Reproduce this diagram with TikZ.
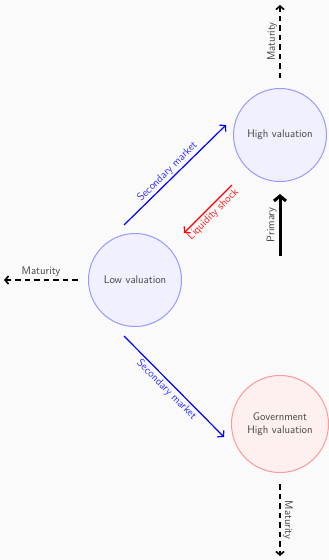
\documentclass[tikz,border=0pt]{standalone}
\usetikzlibrary{arrows.meta}
\definecolor{bg}{HTML}{FAFAFA}
\definecolor{txt}{HTML}{454545}
\definecolor{bluefill}{HTML}{F0F0FF}
\definecolor{blueline}{HTML}{9999FF}
\definecolor{redfill}{HTML}{FFF0F0}
\definecolor{redline}{HTML}{FF9999}
\definecolor{bluetxt}{HTML}{3333FF}
\definecolor{redtxt}{HTML}{FF2020}
\begin{document}
\begin{tikzpicture}[x=1pt,y=-1pt,
  font=\sffamily\fontsize{11}{13.2}\selectfont,
  valstate/.style={circle,draw=blueline,fill=bluefill,line width=1pt,minimum size=93pt,inner sep=0pt,text=txt,align=center},
  govstate/.style={circle,draw=redline,fill=redfill,line width=1pt,minimum size=97pt,inner sep=0pt,text=txt,align=center},
  secarrow/.style={blue,line width=1.2pt,-{Straight Barb[length=4pt,width=9pt]}},
  secarrowrev/.style={red,line width=1.2pt,{Straight Barb[length=4pt,width=9pt]}-},
  matarrow/.style={black,line width=1.6pt,dash pattern=on 5.5pt off 4pt,-{Straight Barb[length=3.5pt,width=8pt]}},
  matarrowrev/.style={black,line width=1.6pt,dash pattern=on 5.5pt off 4pt,{Straight Barb[length=3.5pt,width=8pt]}-},
  primarrow/.style={black,line width=3pt,-{Straight Barb[length=5pt,width=12pt]}},
  lbl/.style={text=txt,inner sep=2pt}
]
\useasboundingbox[fill=bg] (0,0) rectangle (329,560);

\node[valstate] (high) at (280,135) {High valuation};
\node[valstate] (low) at (135,280) {Low valuation};
\node[govstate] (gov) at (280,424) {Government\\High valuation};

% free ends
\coordinate (s1a) at (124,225);
\coordinate (s1b) at (226,125);
\coordinate (s2a) at (124,336);
\coordinate (s2b) at (224,437);
\coordinate (lqa) at (184,233);
\coordinate (lqb) at (232,185);
\coordinate (pra) at (280,256);
\coordinate (prb) at (280,194);
\coordinate (mta) at (280,78);
\coordinate (mtb) at (280,5);
\coordinate (mla) at (4,280);
\coordinate (mlb) at (78,280);
\coordinate (mba) at (280,484);
\coordinate (mbb) at (280,556);

\draw[secarrow] (s1a) -- (s1b)
  node[midway,rotate=45,anchor=south,text=bluetxt,inner sep=2pt,xshift=-3pt] {Secondary market};
\draw[secarrow] (s2a) -- (s2b)
  node[midway,rotate=-45,anchor=north,text=bluetxt,inner sep=2pt,xshift=-3pt] {Secondary market};
\draw[secarrowrev] (lqa) -- (lqb)
  node[midway,rotate=45,anchor=north,text=redtxt,inner sep=2pt] {Liquidity shock};
\draw[primarrow] (pra) -- (prb)
  node[midway,rotate=90,anchor=south,lbl] {Primary};
\draw[matarrow] (mta) -- (mtb)
  node[midway,rotate=90,anchor=south,lbl] {Maturity};
\draw[matarrowrev] (mla) -- (mlb)
  node[midway,anchor=south,lbl] {Maturity};
\draw[matarrow] (mba) -- (mbb)
  node[midway,rotate=-90,anchor=south,lbl] {Maturity};
\end{tikzpicture}
\end{document}
